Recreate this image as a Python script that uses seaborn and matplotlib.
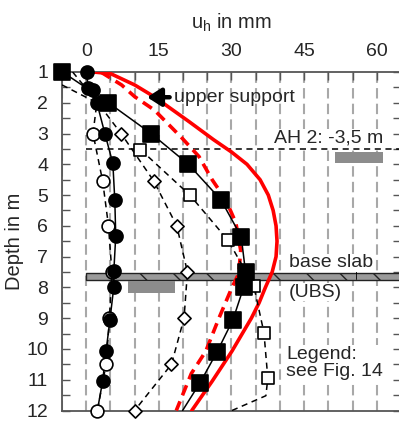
import numpy as np
import pandas as pd
import matplotlib
matplotlib.use("Agg")
import matplotlib.pyplot as plt
from matplotlib.patches import Rectangle
from matplotlib.ticker import MultipleLocator
import seaborn as sns

# ---------------- data ----------------
# filled squares, solid line
sq_line_depth = [1.0, 2.0, 3.0, 4.0, 5.15, 6.35, 7.5, 8.0, 9.05, 10.1, 11.1, 12.0]
sq_line_val = [-4.9, 4.6, 13.4, 21.1, 27.8, 32.0, 32.9, 32.5, 30.3, 27.0, 23.5, 19.9]
sq_mark_depth = [1.0, 2.0, 3.0, 4.0, 5.15, 6.35, 7.5, 8.0, 9.05, 10.1, 11.1]
sq_mark_val = [-4.9, 4.6, 13.4, 21.1, 27.8, 32.0, 32.9, 32.5, 30.3, 27.0, 23.5]

# filled circles, solid line
fc_line_depth = [1.0, 1.52, 2.0, 3.03, 3.97, 5.15, 6.33, 7.47, 7.98, 9.05, 10.07, 11.04, 12.0]
fc_line_val = [0.2, 0.3, 2.2, 3.9, 5.5, 5.9, 6.1, 5.7, 5.7, 4.9, 4.1, 3.4, 2.3]
fc_mark_depth = [1.0, 1.52, 1.6, 2.0, 3.03, 3.97, 5.15, 6.33, 7.47, 7.98, 9.05, 10.07, 11.04]
fc_mark_val = [0.2, 0.3, 1.4, 2.2, 3.9, 5.5, 5.9, 6.1, 5.7, 5.7, 4.9, 4.1, 3.4]

# open circles, dashed line
oc_line_depth = [1.42, 2.0, 3.0, 4.55, 6.0, 7.5, 9.0, 10.5, 12.0]
oc_line_val = [-5.0, 2.2, 1.4, 3.4, 4.6, 5.3, 4.8, 4.1, 2.3]
oc_mark_depth = [3.0, 4.55, 6.0, 7.5, 9.0, 10.5, 12.0]
oc_mark_val = [1.4, 3.4, 4.6, 5.3, 4.8, 4.1, 2.3]

# open diamonds, dashed line
dm_line_depth = [1.0, 2.0, 3.0, 4.53, 6.0, 7.5, 9.0, 10.5, 12.0]
dm_line_val = [-2.8, 2.4, 7.2, 13.9, 18.7, 20.9, 20.2, 17.6, 10.0]
dm_mark_depth = [3.0, 4.53, 6.0, 7.5, 9.0, 10.5, 12.0]
dm_mark_val = [7.2, 13.9, 18.7, 20.9, 20.2, 17.6, 10.0]

# open squares, dashed line
os_line_depth = [3.52, 5.0, 6.47, 7.95, 9.47, 10.95, 11.52, 12.0]
os_line_val = [11.2, 21.4, 29.3, 34.6, 36.7, 37.5, 37.1, 30.1]
os_mark_depth = [3.52, 5.0, 6.47, 7.95, 9.47, 10.95]
os_mark_val = [11.2, 21.4, 29.3, 34.6, 36.7, 37.5]

# red solid curve
rs_depth = [1.0, 1.05, 1.42, 1.8, 2.62, 3.2, 3.6, 4.0, 4.5, 5.0, 5.5, 6.0, 6.5, 7.0,
            7.5, 8.0, 8.5, 9.0, 10.07, 11.05, 12.0]
rs_val = [1.4, 5.0, 10.0, 14.0, 21.3, 26.3, 30.0, 33.2, 35.9, 37.6, 38.6, 39.2, 39.4, 39.2,
          38.4, 37.0, 35.7, 34.1, 30.1, 26.0, 21.8]

# red dashed curve
rd_depth = [1.0, 1.42, 1.8, 2.24, 3.15, 3.75, 4.5, 5.15, 5.9, 6.8, 7.55, 8.0, 9.0, 10.07, 10.8, 12.0]
rd_val = [3.0, 7.3, 10.0, 14.1, 19.8, 23.3, 26.0, 28.8, 30.9, 31.9, 31.5, 30.1, 27.4, 24.7, 21.7, 18.6]

x_ticks = [0, 15, 30, 45, 60]
y_ticks = [1, 2, 3, 4, 5, 6, 7, 8, 9, 10, 11, 12]

# ---------------- style ----------------
sns.set_theme(style="white")
plt.rcParams["font.family"] = ["Liberation Sans", "DejaVu Sans"]
plt.rcParams["hatch.linewidth"] = 1.0

fig = plt.figure(figsize=(3.99, 4.22), dpi=100)
ax = fig.add_axes([62 / 399, 11.5 / 422, (401 - 62) / 399, (410.5 - 72) / 422])

ax.set_xlim(-5, 65)
ax.set_ylim(12, 1)

# grid
ax.set_axisbelow(True)
ax.xaxis.set_major_locator(MultipleLocator(15))
ax.xaxis.set_minor_locator(MultipleLocator(5))
ax.yaxis.set_major_locator(MultipleLocator(1))
ax.yaxis.set_minor_locator(MultipleLocator(0.5))
ax.xaxis.grid(True, which="both", color="#a8a8a8", linestyle=(0, (5, 2.5)), lw=1.5)
ax.yaxis.grid(False)

# base slab
ax.add_patch(Rectangle((0, 7.53), 80, 0.22, facecolor="#9a9a9a", edgecolor="#222222",
                       hatch="\\", lw=1.0, zorder=2))
# blurred gray boxes
ax.add_patch(Rectangle((51.3, 3.6), 9.9, 0.35, facecolor="#8c8c8c", edgecolor="none", zorder=2))
ax.add_patch(Rectangle((8.6, 7.8), 9.8, 0.38, facecolor="#8c8c8c", edgecolor="none", zorder=2))
# AH 2 line
ax.plot([0, 70], [3.5, 3.5], color="black", lw=1.1, linestyle=(0, (4, 3)), zorder=2)
# leader line in base slab label
ax.plot([55.8, 55.8], [7.2, 7.72], color="black", lw=0.6, zorder=2)

red = "#ff0000"
def line(xv, yv, ls, color="black", lw=1.1, z=3):
    sns.lineplot(x=xv, y=yv, sort=False, estimator=None, ax=ax, color=color,
                 lw=lw, linestyle=ls, zorder=z)

line(rs_val, rs_depth, "-", red, 2.6, 3)
line(rd_val, rd_depth, (0, (3, 1.8)), red, 2.6, 3)
line(sq_line_val, sq_line_depth, "-")
line(fc_line_val, fc_line_depth, "-")
line(oc_line_val, oc_line_depth, (0, (4, 3)))
line(dm_line_val, dm_line_depth, (0, (4, 3)))
line(os_line_val, os_line_depth, (0, (4, 3)))

def marks(xv, yv, marker, face, size):
    sns.scatterplot(x=xv, y=yv, ax=ax, marker=marker, s=size, color=face,
                    edgecolor="black", linewidth=1.2, zorder=5, clip_on=False)

marks(oc_mark_val, oc_mark_depth, "o", "white", 85)
marks(dm_mark_val, dm_mark_depth, "D", "white", 45)
marks(os_mark_val, os_mark_depth, "s", "white", 80)
marks(fc_mark_val, fc_mark_depth, "o", "black", 88)
marks(sq_mark_val, sq_mark_depth, "s", "black", 120)

# axes styling
for side in ["left", "top", "right", "bottom"]:
    ax.spines[side].set_color("#555555")
    ax.spines[side].set_linewidth(1.3)
ax.xaxis.tick_top()
ax.xaxis.set_label_position("top")
ax.set_xticks(x_ticks)
ax.set_yticks(y_ticks)
ax.tick_params(axis="x", which="both", direction="in", length=6, width=1.0,
               color="#555555", top=True, bottom=False, labelsize=14, pad=9)
ax.tick_params(axis="y", which="both", direction="in", length=6, width=1.0,
               color="#555555", left=True, right=True, labelsize=14, pad=10)
ax.set_xlabel("u$_\\mathregular{h}$ in mm", fontsize=14.5, labelpad=10)
ax.set_ylabel("Depth in m", fontsize=14.5, labelpad=2)

# annotations
ax.annotate("", xy=(12.0, 1.82), xytext=(17.8, 1.82),
            arrowprops=dict(arrowstyle="-|>,head_length=0.7,head_width=0.45",
                            color="black", lw=3.2), zorder=6)
ax.text(18.2, 1.82, "upper support", fontsize=14, va="center", ha="left", zorder=6)
ax.text(38.8, 3.15, "AH 2: -3,5 m", fontsize=14, va="center", ha="left",
        bbox=dict(facecolor="white", edgecolor="none", pad=0.5), zorder=4)
ax.text(41.8, 7.2, "base slab", fontsize=14, va="center", ha="left",
        bbox=dict(facecolor="white", edgecolor="none", pad=0.5), zorder=4)
ax.text(41.8, 8.15, "(UBS)", fontsize=14, va="center", ha="left",
        bbox=dict(facecolor="white", edgecolor="none", pad=0.5), zorder=4)
ax.text(41.3, 10.45, "Legend:\nsee Fig. 14", fontsize=14, va="center", ha="left",
        linespacing=1.0,
        bbox=dict(facecolor="white", edgecolor="none", pad=0.5), zorder=4)

fig.savefig("out.png", dpi=100)
